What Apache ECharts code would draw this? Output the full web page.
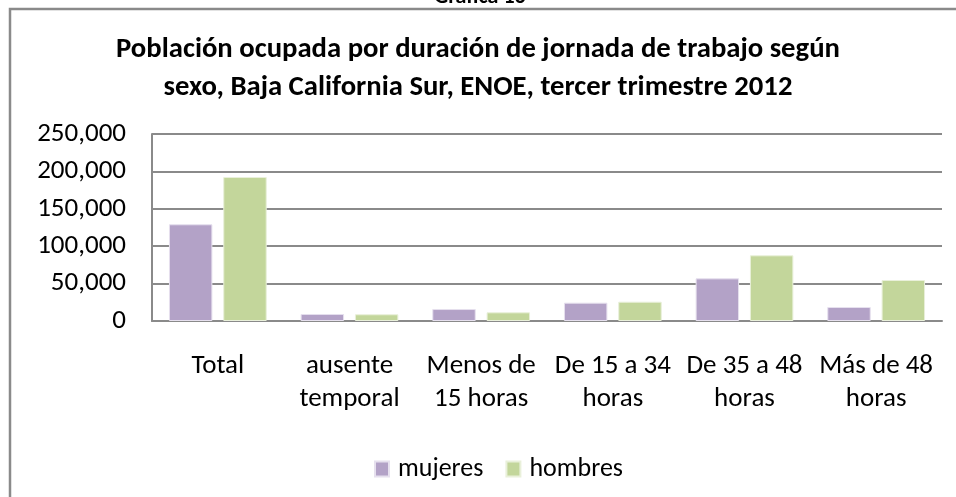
<!DOCTYPE html>
<html>
<head>
<meta charset="utf-8">
<script src="https://cdn.jsdelivr.net/npm/echarts@6/dist/echarts.min.js"></script>
<style>
  html, body { margin: 0; padding: 0; background: #fff; }
  #main { width: 956px; height: 497px; }
</style>
</head>
<body>
<div id="main"></div>
<script>
// datos
var categorias = ["Total", "ausente\ntemporal", "Menos de\n15 horas", "De 15 a 34\nhoras", "De 35 a 48\nhoras", "Más de 48\nhoras"];
var mujeres = [129300, 9400, 16000, 24500, 57000, 18700];
var hombres = [192500, 9000, 11600, 25800, 87800, 54800];
var series_nombres = ["mujeres", "hombres"];

var fuente = "Carlito, Lato, sans-serif";

var chart = echarts.init(document.getElementById("main"));
chart.setOption({
  animation: false,
  textStyle: { fontFamily: fuente },
  graphic: [
    {
      type: "rect",
      shape: { x: 10, y: 9, width: 1000, height: 600 },
      style: { fill: "none", stroke: "#8a8a8a", lineWidth: 2.5 },
      z: -1
    },
    {
      type: "text",
      x: 480,
      y: -14,
      style: { text: "Gráfica 13", font: "bold 22px " + fuente, fill: "#000", align: "center", verticalAlign: "top" }
    }
  ],
  title: {
    text: "Población ocupada por duración de jornada de trabajo según\nsexo, Baja California Sur, ENOE, tercer trimestre 2012",
    left: "center",
    top: 26,
    textStyle: { fontSize: 28.7, fontWeight: "bold", color: "#000", lineHeight: 38, fontFamily: fuente }
  },
  legend: {
    data: series_nombres,
    top: 451,
    left: 369,
    itemWidth: 14,
    itemHeight: 15,
    itemGap: 22,
    icon: "rect",
    textStyle: { fontSize: 26, color: "#000", fontFamily: fuente, padding: [0, 0, 0, 4] }
  },
  grid: { left: 152, right: 14, top: 134, bottom: 176 },
  xAxis: {
    type: "category",
    data: categorias,
    axisLine: { lineStyle: { color: "#8a8a8a", width: 2 } },
    axisTick: { show: false },
    axisLabel: { interval: 0, fontSize: 27, color: "#000", lineHeight: 33, margin: 29, fontFamily: fuente }
  },
  yAxis: {
    type: "value",
    min: 0,
    max: 250000,
    interval: 50000,
    axisLine: { show: true, lineStyle: { color: "#8a8a8a", width: 2 } },
    axisTick: { show: false },
    axisLabel: {
      fontSize: 27, color: "#000", margin: 26, fontFamily: fuente,
      formatter: function (v) { return v.toLocaleString("en-US"); }
    },
    splitLine: { lineStyle: { color: "#8a8a8a", width: 2 } }
  },
  series: [
    {
      name: series_nombres[0],
      type: "bar",
      data: mujeres,
      barWidth: "33%",
      barGap: "25%",
      itemStyle: { color: "#B3A2C7", borderColor: "#E6E0EE", borderWidth: 1 }
    },
    {
      name: series_nombres[1],
      type: "bar",
      data: hombres,
      barWidth: "33%",
      itemStyle: { color: "#C3D69B", borderColor: "#E9F0DA", borderWidth: 1 }
    }
  ]
});
</script>
</body>
</html>
